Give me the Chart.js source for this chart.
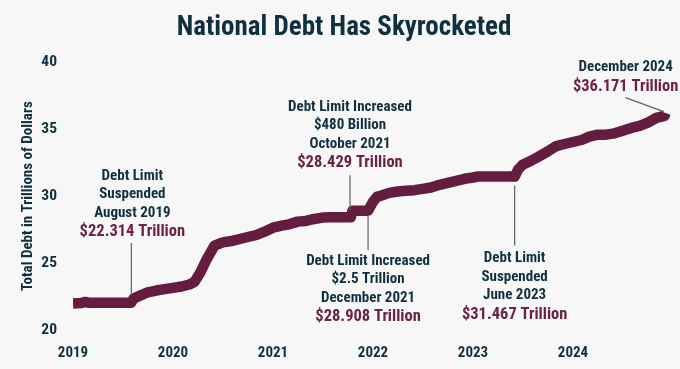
<!DOCTYPE html>
<html>
<head>
<meta charset="utf-8">
<script src="https://cdn.jsdelivr.net/npm/chart.js@4.4.1/dist/chart.umd.min.js"></script>
<style>
  html, body { margin: 0; padding: 0; background: #f7f7f7; }
  #wrap { width: 680px; height: 369px; }
</style>
</head>
<body>
<div id="wrap"><canvas id="debtChart" width="680" height="369"></canvas></div>
<script>
const FONT = "'Liberation Sans Narrow', 'Roboto Condensed', 'DejaVu Sans Condensed', sans-serif";
const NAVY = "#11303f";
const MAROON = "#641c3f";
const AMOUNT = "#6a2345";

// total public debt, trillions of dollars
const debtDates = [
    "2019-01-01", "2019-02-01", "2019-02-15", "2019-03-01", "2019-04-01", "2019-05-01",
    "2019-06-01", "2019-07-01", "2019-08-01", "2019-08-10", "2019-09-01", "2019-10-01",
    "2019-11-01", "2019-12-01", "2020-01-01", "2020-02-01", "2020-03-01", "2020-03-20",
    "2020-04-10", "2020-05-01", "2020-06-01", "2020-07-01", "2020-08-01", "2020-09-01",
    "2020-10-01", "2020-11-01", "2020-12-01", "2021-01-01", "2021-02-01", "2021-03-01",
    "2021-04-01", "2021-05-01", "2021-06-01", "2021-07-01", "2021-08-01", "2021-10-12",
    "2021-10-18", "2021-12-14", "2021-12-31", "2022-01-15", "2022-02-01", "2022-03-01",
    "2022-04-01", "2022-05-01", "2022-06-01", "2022-07-01", "2022-08-01", "2022-09-01",
    "2022-10-01", "2022-11-01", "2022-12-01", "2023-01-01", "2023-01-19", "2023-06-02",
    "2023-06-15", "2023-07-01", "2023-08-01", "2023-09-01", "2023-10-01", "2023-11-01",
    "2023-12-01", "2024-01-01", "2024-02-01", "2024-03-01", "2024-04-01", "2024-05-01",
    "2024-06-01", "2024-07-01", "2024-08-01", "2024-09-01", "2024-10-01", "2024-11-01",
    "2024-12-01", "2024-12-05"
];
const debtValues = [
    21.98, 22.02, 22.10, 22.03, 22.03, 22.03,
    22.03, 22.03, 22.03, 22.35, 22.55, 22.82,
    22.95, 23.05, 23.15, 23.25, 23.40, 23.60,
    24.30, 25.20, 26.30, 26.55, 26.65, 26.80,
    26.95, 27.10, 27.35, 27.65, 27.80, 27.90,
    28.10, 28.15, 28.30, 28.40, 28.43, 28.43,
    28.91, 28.91, 29.55, 29.95, 30.05, 30.25,
    30.35, 30.40, 30.45, 30.55, 30.65, 30.85,
    31.00, 31.15, 31.30, 31.40, 31.47, 31.47,
    32.00, 32.35, 32.65, 33.00, 33.35, 33.75,
    33.90, 34.05, 34.20, 34.45, 34.60, 34.60,
    34.70, 34.90, 35.10, 35.25, 35.50, 35.85,
    36.00, 36.22
];

const yearTicks = [2019, 2020, 2021, 2022, 2023, 2024];
const debtTicks = [20, 25, 30, 35, 40];

// callouts
const noteDates = ["2019-08-02", "2021-10-09", "2021-12-14", "2023-06-02", "2024-12-05"];
const noteValues = [22.314, 28.429, 28.908, 31.467, 36.171];
const noteLines = [
    ["Debt Limit", "Suspended", "August 2019"],
    ["Debt Limit Increased", "$480 Billion", "October 2021"],
    ["Debt Limit Increased", "$2.5 Trillion", "December 2021"],
    ["Debt Limit", "Suspended", "June 2023"],
    ["December 2024"]
];
const noteAmounts = ["$22.314 Trillion", "$28.429 Trillion", "$28.908 Trillion", "$31.467 Trillion", "$36.171 Trillion"];

// where each callout's text and leader sit relative to its point (px)
const noteLayout = [
    { dx: 1, firstLine: -123, lead: [0, -56, 0, -4] },
    { dx: 0, firstLine: -110, lead: [0, -42, 0, -7] },
    { dx: 0, firstLine: 50, lead: [0, 4, 0, 39] },
    { dx: 0, firstLine: 82, lead: [0, 9, 0, 69] },
    { dx: -40, firstLine: -46, lead: [-40, -16, -2, -2] }
];

function toYear(s) {
    const d = new Date(s + "T00:00:00Z");
    const y = d.getUTCFullYear();
    const start = Date.UTC(y, 0, 1);
    const end = Date.UTC(y + 1, 0, 1);
    return y + (d.getTime() - start) / (end - start);
}

const points = debtDates.map((d, i) => ({ x: toYear(d), y: debtValues[i] }));

const background = {
    id: "background",
    beforeDraw(chart) {
        const ctx = chart.ctx;
        ctx.save();
        ctx.fillStyle = "#f7f7f7";
        ctx.fillRect(0, 0, chart.width, chart.height);
        ctx.restore();
    }
};

const callouts = {
    id: "callouts",
    afterDatasetsDraw(chart) {
        const ctx = chart.ctx;
        const xs = chart.scales.x;
        const ys = chart.scales.y;
        ctx.save();
        noteDates.forEach((d, i) => {
            const px = xs.getPixelForValue(toYear(d));
            const py = ys.getPixelForValue(noteValues[i]);
            const lay = noteLayout[i];

            ctx.strokeStyle = "#56636d";
            ctx.lineWidth = 1.2;
            ctx.beginPath();
            ctx.moveTo(px + lay.lead[0], py + lay.lead[1]);
            ctx.lineTo(px + lay.lead[2], py + lay.lead[3]);
            ctx.stroke();

            ctx.textAlign = "center";
            ctx.textBaseline = "middle";
            const tx = px + lay.dx;
            let ty = py + lay.firstLine;
            ctx.fillStyle = NAVY;
            ctx.font = "bold 15px " + FONT;
            noteLines[i].forEach(line => {
                ctx.fillText(line, tx, ty);
                ty += 18.5;
            });
            ctx.fillStyle = AMOUNT;
            ctx.font = "bold 16.5px " + FONT;
            ctx.fillText(noteAmounts[i], tx, ty + 0.5);
        });
        ctx.restore();
    }
};

new Chart(document.getElementById("debtChart").getContext("2d"), {
    type: "line",
    data: {
        datasets: [{
            label: "Total Debt",
            data: points,
            borderColor: MAROON,
            backgroundColor: MAROON,
            borderWidth: 10.5,
            borderCapStyle: "butt",
            borderJoinStyle: "round",
            pointRadius: 0,
            tension: 0,
            fill: false
        }]
    },
    options: {
        responsive: false,
        animation: false,
        layout: { padding: { left: 15, right: 7, top: 0, bottom: 8 } },
        plugins: {
            legend: { display: false },
            tooltip: { enabled: false },
            title: {
                display: true,
                text: "National Debt Has Skyrocketed",
                color: NAVY,
                font: { family: FONT, size: 27, weight: "bold" },
                padding: { top: 12, bottom: 18 }
            }
        },
        scales: {
            x: {
                type: "linear",
                min: 2019,
                max: 2025,
                afterBuildTicks: scale => { scale.ticks = yearTicks.map(v => ({ value: v })); },
                afterFit: scale => { scale.height = 31; },
                grid: { display: false, drawTicks: false },
                border: { display: false },
                ticks: {
                    color: NAVY,
                    padding: 14,
                    maxRotation: 0,
                    font: { family: FONT, size: 15, weight: "bold" },
                    callback: v => String(v)
                }
            },
            y: {
                min: 20,
                max: 40,
                afterBuildTicks: scale => { scale.ticks = debtTicks.map(v => ({ value: v })); },
                afterFit: scale => { scale.width = 58; },
                grid: { display: false, drawTicks: false },
                border: { display: false },
                title: {
                    display: true,
                    text: "Total Debt in Trillions of Dollars",
                    color: NAVY,
                    font: { family: FONT, size: 15, weight: "bold" },
                    padding: { top: 4, bottom: 4 }
                },
                ticks: {
                    color: NAVY,
                    padding: 16,
                    font: { family: FONT, size: 15.5, weight: "bold" }
                }
            }
        }
    },
    plugins: [background, callouts]
});
</script>
</body>
</html>
